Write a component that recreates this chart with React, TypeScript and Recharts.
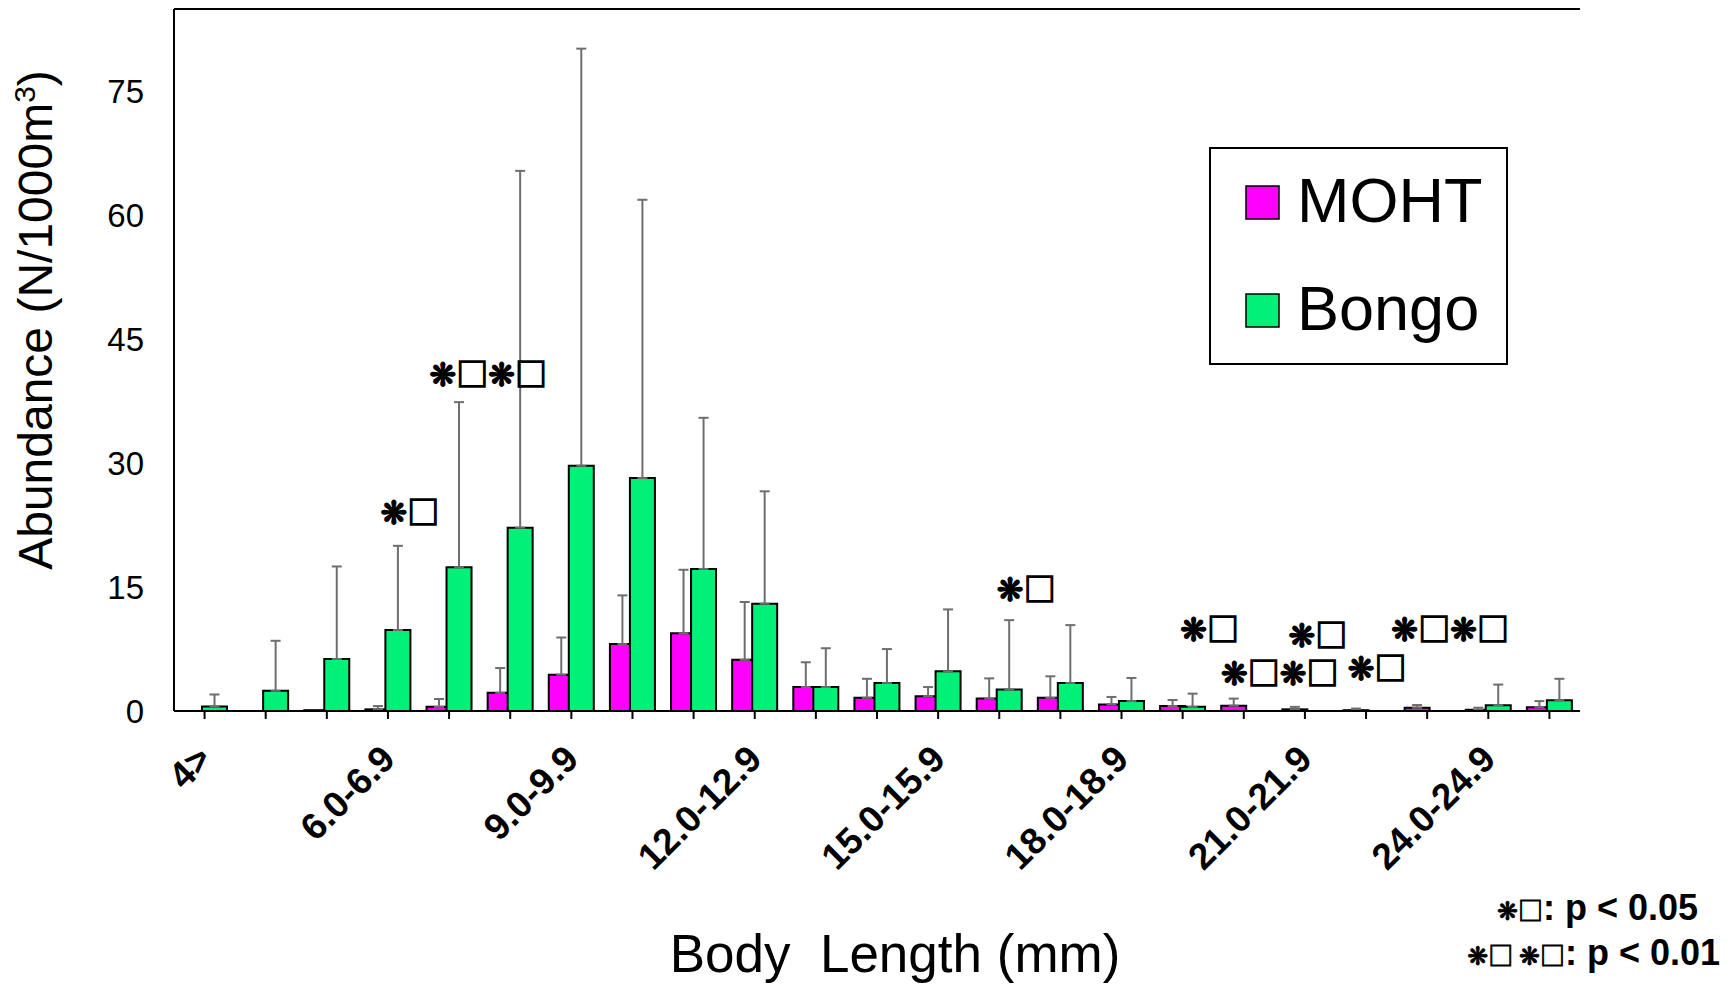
import { BarChart, Bar, XAxis, YAxis, ErrorBar, Legend, ReferenceDot } from 'recharts'

const categories = [
  '4>', '4.0-4.9', '5.0-5.9', '6.0-6.9', '7.0-7.9', '8.0-8.9', '9.0-9.9',
  '10.0-10.9', '11.0-11.9', '12.0-12.9', '13.0-13.9', '14.0-14.9', '15.0-15.9',
  '16.0-16.9', '17.0-17.9', '18.0-18.9', '19.0-19.9', '20.0-20.9', '21.0-21.9',
  '22.0-22.9', '23.0-23.9', '24.0-24.9', '25.0-25.9'
]

const moht = [0, 0, 0.1, 0.2, 0.5, 2.2, 4.4, 8.1, 9.4, 6.2, 2.9, 1.6, 1.8, 1.5, 1.6, 0.8, 0.6, 0.65, 0.2, 0.1, 0.4, 0.15, 0.45]
const mohtSd = [null, null, null, 0.4, 0.95, 3.0, 4.5, 5.9, 7.7, 7.0, 3.0, 2.3, 1.1, 2.45, 2.6, 0.9, 0.73, 0.85, 0.3, 0.2, 0.33, 0.25, 0.75]

const bongo = [0.55, 2.45, 6.3, 9.8, 17.4, 22.2, 29.7, 28.2, 17.2, 13.0, 2.9, 3.4, 4.8, 2.6, 3.4, 1.2, 0.5, 0, 0, 0, 0, 0.7, 1.3]
const bongoSd = [1.45, 6.05, 11.2, 10.2, 20.0, 43.2, 50.5, 33.7, 18.3, 13.6, 4.7, 4.1, 7.5, 8.4, 7.0, 2.8, 1.6, null, null, null, null, 2.5, 2.6]

const yTicks = [0, 15, 30, 45, 60, 75]
const seriesOrder = ['MOHT', 'Bongo']

// significance marks: category, height (data units), text
const marks = [
  { cat: '6.0-6.9', y: 24.3, text: '❋□', dx: 22 },
  { cat: '8.0-8.9', y: 41.0, text: '❋□❋□', dx: -22 },
  { cat: '16.0-16.9', y: 15.0, text: '❋□', dx: 27 },
  { cat: '19.0-19.9', y: 10.2, text: '❋□', dx: 27 },
  { cat: '21.0-21.9', y: 9.45, text: '❋□', dx: 13 },
  { cat: '23.0-23.9', y: 10.2, text: '❋□❋□', dx: 23 },
  { cat: '20.0-20.9', y: 4.9, text: '❋□❋□', dx: 36 },
  { cat: '22.0-22.9', y: 5.5, text: '❋□', dx: 11 }
]

const data = categories.map((cat, i) => ({
  cat,
  moht: moht[i],
  bongo: bongo[i],
  mohtErr: mohtSd[i] == null ? null : [0, mohtSd[i]],
  bongoErr: bongoSd[i] == null ? null : [0, bongoSd[i]]
}))

const SANS = "'Liberation Sans', Arial, sans-serif"
const SYM = "'Noto Sans CJK JP', 'DejaVu Sans', sans-serif"
const MAGENTA = '#ff00ff'
const GREEN = '#00f078'

const XTick = (props: any) => {
  const { x, y, payload, index } = props
  if (index % 3 !== 0) return <g />
  const ty = y + 31
  return (
    <text
      x={x}
      y={ty}
      dy="0.35em"
      textAnchor="end"
      transform={`rotate(-45 ${x} ${ty})`}
      fontFamily={SANS}
      fontWeight="bold"
      fontSize={37}
      fill="#000"
    >
      {payload.value}
    </text>
  )
}

const markLabel = (text: string, dx: number) => (props: any) => {
  const vb = props.viewBox
  return (
    <text
      x={vb.x + (vb.width || 0) / 2 + dx}
      y={vb.y + (vb.height || 0) / 2}
      textAnchor="middle"
      dominantBaseline="central"
      fontFamily={SYM}
      fontWeight="bold"
      fontSize={32}
      fill="#000"
      stroke="#000"
      strokeWidth={1.3}
    >
      {text}
    </text>
  )
}

const renderLegend = (props: any) => {
  const items = [...(props.payload || [])].sort(
    (a: any, b: any) => seriesOrder.indexOf(a.value) - seriesOrder.indexOf(b.value)
  )
  return (
    <svg width={299} height={218} style={{ display: 'block' }}>
      <rect x={1} y={1} width={297} height={216} fill="#fff" stroke="#000" strokeWidth={2} />
      {items.map((it: any, i: number) => (
        <g key={it.value}>
          <rect x={37} y={39 + i * 108} width={33} height={33} fill={it.color} stroke="#000" strokeWidth={1.5} />
          <text x={88} y={75 + i * 108} fontFamily={SANS} fontSize={63} fill="#000">
            {it.value}
          </text>
        </g>
      ))}
    </svg>
  )
}

export default function App() {
  return (
    <div style={{ position: 'absolute', left: 0, top: 0, width: 1735, height: 984, background: '#fff' }}>
      <BarChart
        width={1735}
        height={984}
        data={data}
        margin={{ top: 8, right: 155, left: 0, bottom: 0 }}
        barSize={25}
        barGap={-5}
      >
        <XAxis
          dataKey="cat"
          interval={0}
          height={273}
          tickSize={8}
          tickLine={{ stroke: '#000', strokeWidth: 2 }}
          axisLine={{ stroke: '#000', strokeWidth: 2 }}
          tick={XTick}
        />
        <XAxis
          xAxisId="top"
          orientation="top"
          dataKey="cat"
          height={1}
          tick={false}
          tickLine={false}
          axisLine={{ stroke: '#000', strokeWidth: 2 }}
        />
        <YAxis
          domain={[0, 85]}
          ticks={yTicks}
          width={174}
          tickLine={false}
          tickSize={0}
          tickMargin={30}
          axisLine={{ stroke: '#000', strokeWidth: 2 }}
          tick={{ fontSize: 33, fill: '#000', fontFamily: SANS }}
        />
        <YAxis
          yAxisId="right"
          orientation="right"
          domain={[0, 85]}
          width={0}
          tick={false}
          tickLine={false}
          axisLine={{ stroke: '#000', strokeWidth: 2 }}
        />
        <Legend
          layout="vertical"
          align="center"
          verticalAlign="middle"
          content={renderLegend}
          wrapperStyle={{ left: 1209, top: 147, width: 299, height: 218 }}
        />
        <Bar dataKey="moht" name="MOHT" fill={MAGENTA} stroke="#000" strokeWidth={2} isAnimationActive={false}>
          <ErrorBar dataKey="mohtErr" width={5} stroke="#6e6e6e" strokeWidth={2} isAnimationActive={false} />
        </Bar>
        <Bar dataKey="bongo" name="Bongo" fill={GREEN} stroke="#000" strokeWidth={2} isAnimationActive={false}>
          <ErrorBar dataKey="bongoErr" width={5} stroke="#6e6e6e" strokeWidth={2} isAnimationActive={false} />
        </Bar>
        {marks.map((m) => (
          <ReferenceDot
            key={m.cat + m.text}
            x={m.cat}
            y={m.y}
            r={0}
            fill="none"
            stroke="none"
            label={markLabel(m.text, m.dx)}
          />
        ))}
      </BarChart>
      <svg
        width={1735}
        height={984}
        style={{ position: 'absolute', left: 0, top: 0, pointerEvents: 'none' }}
      >
        <text
          transform="translate(52 320) rotate(-90)"
          textAnchor="middle"
          fontFamily={SANS}
          fontSize={48}
          fill="#000"
        >
          Abundance (N/1000m<tspan dy={-17} fontSize={30}>3</tspan><tspan dy={17}>)</tspan>
        </text>
        <text
          x={895}
          y={972}
          textAnchor="middle"
          fontFamily={SANS}
          fontSize={53}
          fill="#000"
          style={{ whiteSpace: 'pre' }}
        >
          {'Body  Length (mm)'}
        </text>
        <text x={1698} y={920} textAnchor="end" fill="#000">
          <tspan fontFamily={SYM} fontWeight="bold" fontSize={25} stroke="#000" strokeWidth={0.8}>❋□</tspan>
          <tspan fontFamily={SANS} fontWeight="bold" fontSize={36}>: p &lt; 0.05</tspan>
        </text>
        <text x={1720} y={965} textAnchor="end" fill="#000" style={{ whiteSpace: 'pre' }}>
          <tspan fontFamily={SYM} fontWeight="bold" fontSize={25} stroke="#000" strokeWidth={0.8}>{'❋□ ❋□'}</tspan>
          <tspan fontFamily={SANS} fontWeight="bold" fontSize={36}>: p &lt; 0.01</tspan>
        </text>
      </svg>
    </div>
  )
}
